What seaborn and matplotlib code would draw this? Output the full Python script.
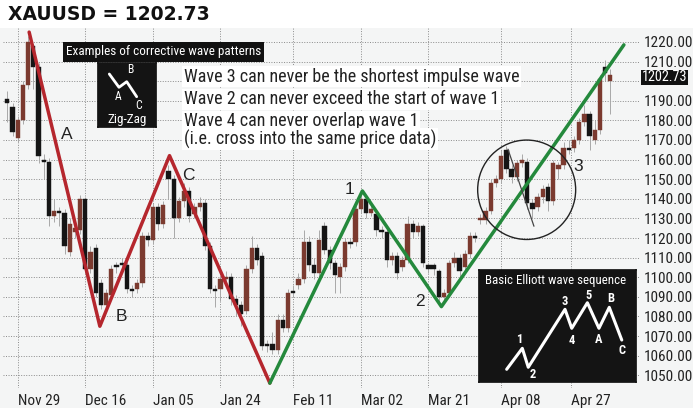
import numpy as np
import pandas as pd
import matplotlib
matplotlib.use("Agg")
import matplotlib.pyplot as plt
import matplotlib.transforms as mtransforms
from matplotlib.patches import Ellipse, Rectangle
import seaborn as sns

# ---------------- data ----------------
opens = [1191, 1187, 1171, 1180, 1198, 1218, 1207, 1160, 1159, 1131,
         1134, 1133, 1113, 1123, 1124, 1140, 1104, 1115, 1097, 1086,
         1091, 1106, 1107, 1106, 1094, 1094, 1097, 1121, 1119, 1136,
         1127, 1154, 1150, 1130, 1139, 1144, 1132, 1136, 1138, 1116,
         1094, 1094, 1099, 1100, 1089, 1086, 1083, 1104, 1115, 1111,
         1066, 1066, 1063, 1078, 1074, 1093, 1096, 1099, 1118, 1106,
         1102, 1126, 1114, 1107, 1100, 1105, 1118, 1118, 1135, 1140,
         1133, 1132, 1124, 1123, 1109, 1111, 1105, 1109, 1127, 1123,
         1126, 1106, 1106, 1103, 1090, 1092, 1107, 1110, 1105, 1112,
         1121, 1129, 1129, 1134, 1148, 1150, 1165, 1155, 1151, 1158,
         1159, 1138, 1136, 1141, 1146, 1139, 1155, 1157, 1166, 1166,
         1170, 1179, 1183, 1170, 1175, 1207, 1200]
closes = [1189, 1174, 1180, 1198, 1220, 1207, 1162, 1159, 1131, 1134,
          1133, 1116, 1127, 1125, 1140, 1104, 1113, 1092, 1086, 1092,
          1104, 1105, 1106, 1094, 1093, 1097, 1121, 1119, 1136, 1127,
          1137, 1150, 1130, 1139, 1144, 1131, 1136, 1138, 1116, 1094,
          1093, 1099, 1100, 1089, 1086, 1081, 1104, 1115, 1109, 1065,
          1065, 1063, 1078, 1074, 1092, 1092, 1099, 1118, 1106, 1102,
          1119, 1114, 1107, 1101, 1105, 1118, 1117, 1135, 1140, 1133,
          1135, 1124, 1123, 1109, 1111, 1102, 1109, 1127, 1123, 1126,
          1107, 1104, 1104, 1090, 1092, 1107, 1110, 1103, 1112, 1121,
          1120, 1130, 1134, 1148, 1150, 1162, 1155, 1151, 1158, 1160,
          1138, 1135, 1141, 1145, 1139, 1158, 1157, 1166, 1165, 1170,
          1179, 1183, 1172, 1175, 1201, 1204, 1203]
highs = [1195, 1189, 1182, 1200, 1223, 1219, 1209, 1163, 1161, 1140,
         1136, 1135, 1130, 1128, 1142, 1141, 1116, 1117, 1099, 1094,
         1106, 1108, 1110, 1108, 1096, 1099, 1123, 1123, 1138, 1138,
         1139, 1157, 1152, 1141, 1148, 1146, 1138, 1141, 1140, 1118,
         1096, 1101, 1103, 1102, 1091, 1088, 1106, 1121, 1117, 1113,
         1068, 1072, 1081, 1081, 1094, 1096, 1102, 1124, 1121, 1110,
         1124, 1128, 1116, 1109, 1107, 1120, 1120, 1137, 1144, 1142,
         1138, 1134, 1126, 1125, 1113, 1113, 1111, 1131, 1129, 1128,
         1127, 1107, 1107, 1104, 1094, 1109, 1113, 1112, 1114, 1123,
         1123, 1132, 1136, 1150, 1152, 1165, 1167, 1157, 1160, 1163,
         1161, 1140, 1143, 1147, 1148, 1160, 1159, 1169, 1170, 1172,
         1181, 1188, 1185, 1180, 1203, 1211, 1206]
lows = [1179, 1172, 1169, 1178, 1196, 1196, 1158, 1150, 1126, 1128,
        1126, 1112, 1111, 1120, 1122, 1102, 1102, 1090, 1084, 1085,
        1089, 1102, 1104, 1092, 1090, 1092, 1095, 1116, 1117, 1124,
        1125, 1140, 1120, 1128, 1136, 1128, 1130, 1134, 1114, 1092,
        1085, 1088, 1096, 1086, 1080, 1075, 1081, 1102, 1106, 1063,
        1062, 1061, 1061, 1072, 1072, 1090, 1094, 1097, 1103, 1099,
        1100, 1112, 1104, 1092, 1092, 1103, 1115, 1116, 1133, 1130,
        1131, 1121, 1120, 1105, 1106, 1099, 1103, 1107, 1120, 1121,
        1105, 1102, 1101, 1087, 1088, 1090, 1105, 1100, 1103, 1110,
        1118, 1127, 1127, 1132, 1146, 1148, 1153, 1148, 1149, 1156,
        1135, 1130, 1134, 1138, 1134, 1137, 1150, 1155, 1163, 1164,
        1168, 1177, 1165, 1168, 1173, 1200, 1183]

date_labels = ["Nov 29", "Dec 16", "Jan 05", "Jan 24", "Feb 11",
               "Mar 02", "Mar 21", "Apr 08", "Apr 27"]
date_tick_idx = [2, 15, 28, 41, 55, 68, 81, 95, 108.5]
price_ticks = list(range(1050, 1230, 10))
last_price = 1202.73

# corrective (red) and impulse (green) wave pivots: (day index, price)
corr_wave_idx = [4.2, 17.8, 31.2, 50.5]
corr_wave_price = [1225, 1075, 1162, 1046]
impulse_wave_idx = [50.5, 68.3, 83.5, 118.6]
impulse_wave_price = [1046, 1144, 1085, 1218.5]

wave_label_text = ["A", "B", "C", "1", "2", "3"]
wave_label_idx = [11.5, 22.0, 34.8, 65.9, 79.4, 109.8]
wave_label_price = [1172.6, 1080.2, 1152.1, 1144.5, 1087.5, 1156.4]

rules = ["Wave 3 can never be the shortest impulse wave",
         "Wave 2 can never exceed the start of wave 1",
         "Wave 4 can never overlap wave 1",
         "(i.e. cross into the same price data)"]

# inset schematic waves (normalised inset coordinates)
zig_x = [0.195, 0.362, 0.495, 0.667]
zig_y = [0.828, 0.620, 0.708, 0.473]
elliott_x = [0.175, 0.275, 0.313, 0.548, 0.591, 0.691, 0.765, 0.831, 0.911]
elliott_y = [0.111, 0.299, 0.129, 0.648, 0.478, 0.707, 0.478, 0.666, 0.373]
elliott_lbl = ["1", "2", "3", "4", "5", "A", "B", "C"]
elliott_lbl_x = [0.256, 0.339, 0.548, 0.591, 0.700, 0.761, 0.842, 0.912]
elliott_lbl_y = [0.382, 0.060, 0.716, 0.371, 0.776, 0.382, 0.749, 0.278]

# ---------------- style ----------------
sns.set_theme(style="white")
NARROW = ["Roboto Condensed", "Archivo Narrow", "PT Sans Narrow",
          "Asap Condensed", "Liberation Sans", "DejaVu Sans"]
plt.rcParams["font.family"] = NARROW

W, H = 700, 418
fig = plt.figure(figsize=(W / 100, H / 100), dpi=100)
fig.patch.set_facecolor("white")


def fx(px):
    return px / W


def fy(py):
    return 1 - py / H


# light panel behind the chart
fig.patches.append(Rectangle((0, fy(408)), fx(693), (408 - 28) / H,
                             transform=fig.transFigure, facecolor="#f4f5f5",
                             edgecolor="none", zorder=-10))

ax = fig.add_axes([fx(3), fy(388), (640 - 3) / W, (388 - 28) / H])
ax.set_facecolor("none")
for s in ax.spines.values():
    s.set_visible(False)

df = pd.DataFrame({"open": opens, "close": closes, "high": highs, "low": lows})
df["idx"] = np.arange(len(df))
df["up"] = df["close"] >= df["open"]
df["bottom"] = df[["open", "close"]].min(axis=1)
df["height"] = (df["close"] - df["open"]).abs().clip(lower=0.7)
colors = np.where(df["up"], "#7b3a2f", "#151515")

ax.vlines(df["idx"], df["low"], df["high"], color="#a8a8a8", linewidth=0.7, zorder=2)
ax.bar(df["idx"], df["height"], bottom=df["bottom"], width=0.82,
       color=colors, edgecolor=colors, linewidth=0.3, zorder=3)

red = pd.DataFrame({"x": corr_wave_idx, "y": corr_wave_price})
green = pd.DataFrame({"x": impulse_wave_idx, "y": impulse_wave_price})
sns.lineplot(data=red, x="x", y="y", sort=False, estimator=None, color="#b5262d",
             linewidth=2.5, ax=ax, zorder=5)
sns.lineplot(data=green, x="x", y="y", sort=False, estimator=None, color="#24893c",
             linewidth=2.5, ax=ax, zorder=5)

for t, x, y in zip(wave_label_text, wave_label_idx, wave_label_price):
    ax.text(x, y, t, ha="center", va="center", fontsize=12.5, color="#222222",
            family=["Liberation Sans", "DejaVu Sans"], zorder=6)

# circle around wave 3 sub-structure
ax.add_patch(Ellipse((99.9, 1144.6), 18.85, 50.7, fill=False, edgecolor="#222222",
                     linewidth=1.0, zorder=6))
ax.plot([96.3, 101.3], [1165.3, 1126], color="#444444", linewidth=0.9, zorder=6)

ax.set_xlim(-0.83, 121.7)
ax.set_ylim(1043.5, 1227.1)
ax.set_yticks(price_ticks)
ax.set_yticklabels(["" if p == 1200 else f"{p:.2f}" for p in price_ticks])
ax.yaxis.tick_right()
ax.set_xticks(date_tick_idx)
ax.set_xticklabels(date_labels)
for lbl in ax.get_xticklabels():
    lbl.set_ha("left")
ax.tick_params(axis="y", length=0, pad=3, labelsize=11, colors="#222222")
ax.tick_params(axis="x", length=0, pad=4, labelsize=11, colors="#222222")
ax.grid(True, linestyle=(0, (1, 1.6)), color="#8a8a8a", linewidth=0.7, zorder=1)
ax.set_xlabel("")
ax.set_ylabel("")

trans = mtransforms.blended_transform_factory(ax.transAxes, ax.transData)
trans = trans + mtransforms.ScaledTranslation(0, -1.5 / 100, fig.dpi_scale_trans)
ax.text(1.0 + 1.5 / 637, last_price, f"{last_price:.2f}", transform=trans,
        ha="left", va="center", color="white", fontsize=10.3,
        bbox=dict(facecolor="#111111", edgecolor="none", pad=0.5), zorder=7,
        clip_on=False)

# title
fig.text(fx(8), fy(15), "XAUUSD = 1202.73", ha="left", va="center",
         fontsize=13.5, fontweight="bold", family=["DejaVu Sans"], color="#111111")

# corrective patterns banner
fig.text(fx(66), fy(52), "Examples of corrective wave patterns", ha="left",
         va="center", fontsize=9.5, color="white",
         bbox=dict(facecolor="#111111", edgecolor="none", pad=2.2))

# rules text
rule_y = [76.5, 99.5, 121.5, 139]
for t, y in zip(rules, rule_y):
    fig.text(fx(184), fy(y), t, ha="left", va="center", fontsize=13,
             color="#222222",
             bbox=dict(facecolor="white", edgecolor="none", pad=1.2))

# zig-zag inset
zax = fig.add_axes([fx(98), fy(127), 58 / W, 64 / H])
zax.set_facecolor("#141414")
zax.set_xticks([]); zax.set_yticks([])
for s in zax.spines.values():
    s.set_color("#141414")
zax.set_xlim(0, 1); zax.set_ylim(0, 1)
sns.lineplot(x=zig_x, y=zig_y, sort=False, estimator=None, color="white",
             linewidth=2.0, ax=zax)
for t, x, y in zip(["B", "A", "C"], [0.564, 0.341, 0.707], [0.891, 0.473, 0.33]):
    zax.text(x, y, t, color="white", ha="center", va="center", fontsize=8.5)
zax.text(0.495, 0.11, "Zig-Zag", color="white", ha="center", va="center",
         fontsize=9.5)

# basic Elliott wave inset
eax = fig.add_axes([fx(479.3), fy(381.7), 156.4 / W, 111.7 / H])
eax.set_facecolor("#141414")
eax.set_xticks([]); eax.set_yticks([])
for s in eax.spines.values():
    s.set_color("#141414")
eax.set_xlim(0, 1); eax.set_ylim(0, 1)
sns.lineplot(x=elliott_x, y=elliott_y, sort=False, estimator=None, color="white",
             linewidth=2.2, ax=eax)
for t, x, y in zip(elliott_lbl, elliott_lbl_x, elliott_lbl_y):
    eax.text(x, y, t, color="white", ha="center", va="center", fontsize=9,
             fontweight="bold")
eax.text(0.036, 0.91, "Basic Elliott wave sequence", color="white", ha="left",
         va="center", fontsize=9.3)

fig.savefig("out.png", dpi=100)
